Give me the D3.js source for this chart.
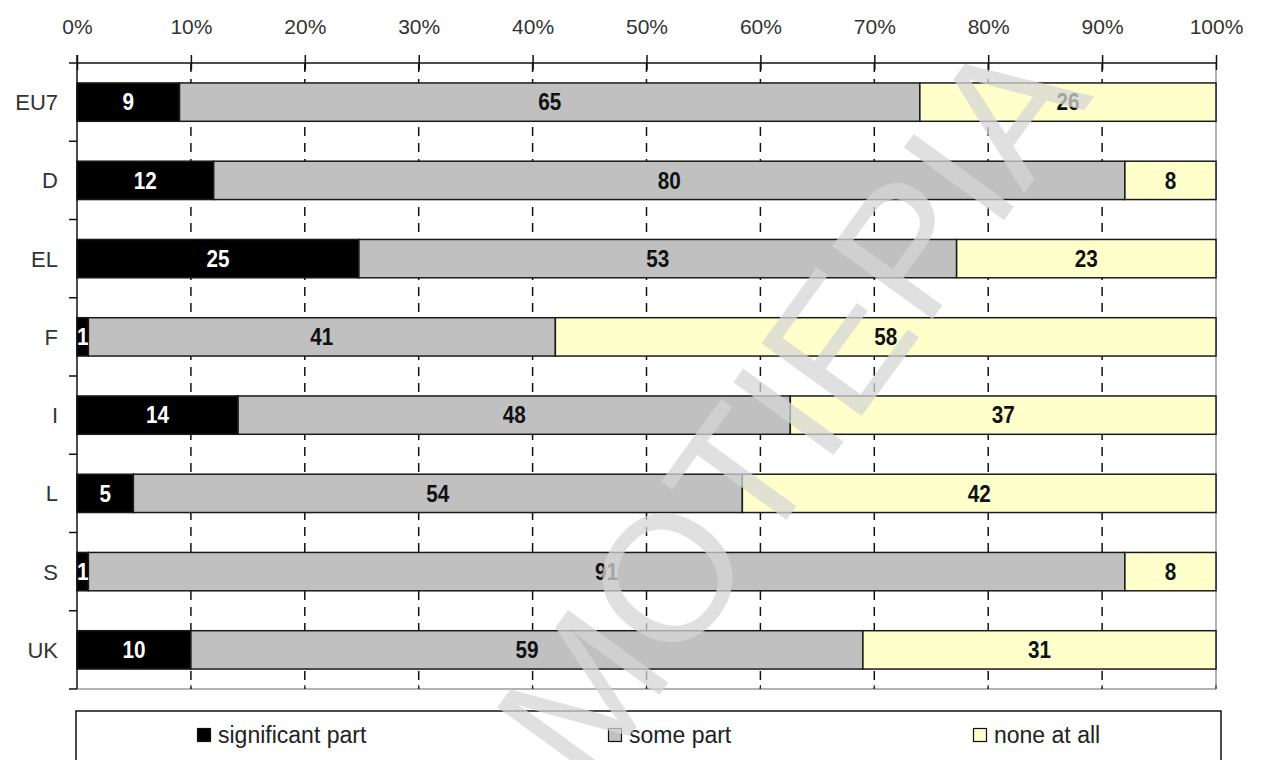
<!DOCTYPE html>
<html>
<head>
<meta charset="utf-8">
<script src="https://cdn.jsdelivr.net/npm/d3@7/dist/d3.min.js"></script>
<style>
  html, body { margin: 0; padding: 0; background: #fff; }
  svg { display: block; }
</style>
</head>
<body>
<svg id="chart" width="1261" height="760"></svg>
<script>
// Share of respondents per country (percent)
const categories = ["EU7", "D", "EL", "F", "I", "L", "S", "UK"];
const significantPart = [9, 12, 25, 1, 14, 5, 1, 10];
const somePart        = [65, 80, 53, 41, 48, 54, 91, 59];
const noneAtAll       = [26, 8, 23, 58, 37, 42, 8, 31];

const seriesNames = ["significant part", "some part", "none at all"];
const seriesColors = ["#000000", "#c0c0c0", "#ffffcc"];
const labelColors = ["#ffffff", "#111111", "#111111"];
const xTicks = [0, 10, 20, 30, 40, 50, 60, 70, 80, 90, 100];
const watermarkText = "ΜΟΤΙΕΡΙΑ";

const svg = d3.select("#chart");
const plotLeft = 77, plotRight = 1216, plotTop = 63, plotBottom = 689;

const x = d3.scaleLinear().domain([0, 100]).range([plotLeft, plotRight]);
const y = d3.scaleBand().domain(categories).range([plotTop, plotBottom]).paddingInner(0.51).paddingOuter(0.255);
const band = d3.scaleBand().domain(categories).range([plotTop, plotBottom]);

// rows normalised to 100 %
const rows = categories.map((c, i) => {
  const vals = [significantPart[i], somePart[i], noneAtAll[i]];
  const total = d3.sum(vals);
  let acc = 0;
  return {
    cat: c,
    segs: vals.map((v, k) => {
      const s = { k, v, x0: acc / total * 100, x1: (acc + v) / total * 100 };
      acc += v;
      return s;
    })
  };
});

// frame: right and bottom borders
svg.append("line").attr("x1", plotRight).attr("x2", plotRight).attr("y1", plotTop).attr("y2", plotBottom)
  .attr("stroke", "#9a9a9a").attr("stroke-width", 1.5);
svg.append("line").attr("x1", plotLeft).attr("x2", plotRight).attr("y1", plotBottom).attr("y2", plotBottom)
  .attr("stroke", "#9a9a9a").attr("stroke-width", 1.5);

// dashed gridlines
svg.append("g").selectAll("line").data(xTicks.slice(1, -1)).join("line")
  .attr("x1", d => x(d)).attr("x2", d => x(d))
  .attr("y1", plotTop).attr("y2", plotBottom)
  .attr("stroke", "#111").attr("stroke-width", 1.5)
  .attr("stroke-dasharray", "9,7");

// small ticks on the bottom border
svg.append("g").selectAll("line").data(xTicks.slice(1)).join("line")
  .attr("x1", d => x(d)).attr("x2", d => x(d))
  .attr("y1", plotBottom - 4).attr("y2", plotBottom)
  .attr("stroke", "#333").attr("stroke-width", 1.2);

// bars
const rowG = svg.append("g").selectAll("g").data(rows).join("g")
  .attr("transform", d => `translate(0,${y(d.cat)})`);

rowG.selectAll("rect").data(d => d.segs).join("rect")
  .attr("x", d => x(d.x0))
  .attr("width", d => x(d.x1) - x(d.x0))
  .attr("y", 0)
  .attr("height", y.bandwidth())
  .attr("fill", d => seriesColors[d.k])
  .attr("stroke", "#1a1a1a").attr("stroke-width", 1.5);

rowG.selectAll("text").data(d => d.segs).join("text")
  .attr("x", d => (x(d.x0) + x(d.x1)) / 2)
  .attr("y", y.bandwidth() / 2)
  .attr("dy", "0.36em")
  .attr("text-anchor", "middle")
  .attr("font-family", "'Liberation Sans Narrow', 'Arial Narrow', 'Liberation Sans', Arial, sans-serif")
  .attr("font-weight", "bold")
  .attr("font-size", 23)
  .attr("fill", d => labelColors[d.k])
  .attr("transform", d => {
    const cx = (x(d.x0) + x(d.x1)) / 2;
    return `translate(${cx},0) scale(0.9,1) translate(${-cx},0)`;
  })
  .text(d => d.v);

// top axis
const xAxis = d3.axisTop(x).tickValues(xTicks).tickFormat(d => d + "%").tickSize(7).tickPadding(22);
const gx = svg.append("g").attr("transform", `translate(0,${plotTop})`).call(xAxis);
gx.select(".domain").remove();
gx.append("line").attr("x1", plotLeft - 8).attr("x2", plotRight).attr("y1", 0).attr("y2", 0)
  .attr("stroke", "#111").attr("stroke-width", 1.5);
gx.selectAll(".tick line").attr("y2", 7).attr("y1", -8).attr("stroke", "#111").attr("stroke-width", 1.5);
gx.selectAll(".tick text")
  .attr("font-family", "'Liberation Sans', Arial, sans-serif")
  .attr("font-size", 21).attr("fill", "#333");

// left axis
const gy = svg.append("g").attr("transform", `translate(${plotLeft},0)`);
gy.append("line").attr("x1", 0).attr("x2", 0).attr("y1", plotTop - 8).attr("y2", plotBottom)
  .attr("stroke", "#111").attr("stroke-width", 1.5);
gy.selectAll("line.bt").data(categories).join("line").attr("class", "bt")
  .attr("x1", -8).attr("x2", 0)
  .attr("y1", d => band(d) + band.bandwidth()).attr("y2", d => band(d) + band.bandwidth())
  .attr("stroke", "#111").attr("stroke-width", 1.5);
gy.selectAll("text").data(categories).join("text")
  .attr("x", -19)
  .attr("y", d => y(d) + y.bandwidth() / 2)
  .attr("dy", "0.36em")
  .attr("text-anchor", "end")
  .attr("font-family", "'Liberation Sans', Arial, sans-serif")
  .attr("font-size", 22).attr("fill", "#333")
  .text(d => d);

// legend
const lg = svg.append("g");
lg.append("rect").attr("x", 76).attr("y", 711).attr("width", 1145).attr("height", 70)
  .attr("fill", "#fff").attr("stroke", "#111").attr("stroke-width", 1.5);
const legendX = [197, 608, 973];
const items = lg.selectAll("g.item").data(seriesNames).join("g").attr("class", "item")
  .attr("transform", (d, i) => `translate(${legendX[i]},728)`);
items.append("rect").attr("x", 0.5).attr("y", 0.5).attr("width", 13).attr("height", 13)
  .attr("fill", (d, i) => seriesColors[i]).attr("stroke", "#111").attr("stroke-width", 1.2);
items.append("text").attr("x", 21).attr("y", 7).attr("dy", "0.36em")
  .attr("font-family", "'Liberation Sans', Arial, sans-serif")
  .attr("font-size", 23).attr("fill", "#222")
  .text(d => d);

// diagonal watermark across the chart
svg.append("text")
  .attr("transform", "translate(789,406) rotate(-54)")
  .attr("text-anchor", "middle")
  .attr("dy", "0.36em")
  .attr("font-family", "'Liberation Sans', Arial, sans-serif")
  .attr("font-size", 180)
  .attr("fill", "#d6d6d6")
  .attr("fill-opacity", 0.75)
  .text(watermarkText);
</script>
</body>
</html>
